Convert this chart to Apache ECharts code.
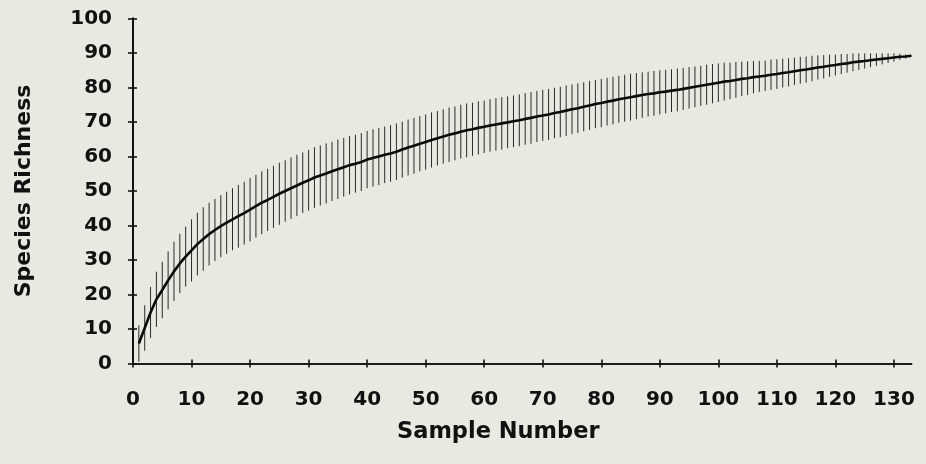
<!DOCTYPE html>
<html>
<head>
<meta charset="utf-8">
<script src="https://cdn.jsdelivr.net/npm/echarts@6/dist/echarts.min.js"></script>
<style>
html,body{margin:0;padding:0;background:#e9e9e1;}
#chart{width:926px;height:464px;}
</style>
</head>
<body>
<div id="chart"></div>
<script>
// Mean species richness for samples 1..133
const meanRichness = [
  5.8, 10.3, 14.8, 18.6, 21.3, 24.1, 26.7, 29.0, 31.0, 32.8,
  34.6, 36.1, 37.5, 38.7, 39.8, 40.8, 41.8, 42.7, 43.6, 44.6,
  45.6, 46.6, 47.4, 48.3, 49.2, 50.0, 50.8, 51.6, 52.4, 53.1,
  53.9, 54.5, 55.1, 55.7, 56.3, 56.9, 57.5, 57.9, 58.4, 59.1,
  59.6, 60.0, 60.5, 60.9, 61.4, 62.0, 62.6, 63.1, 63.7, 64.2,
  64.8, 65.3, 65.8, 66.3, 66.7, 67.2, 67.6, 67.9, 68.3, 68.6,
  69.0, 69.3, 69.6, 69.9, 70.2, 70.5, 70.9, 71.2, 71.6, 71.9,
  72.2, 72.6, 72.9, 73.3, 73.7, 74.0, 74.4, 74.8, 75.2, 75.5,
  75.9, 76.2, 76.6, 76.9, 77.2, 77.5, 77.8, 78.1, 78.3, 78.6,
  78.8, 79.1, 79.3, 79.6, 79.9, 80.2, 80.5, 80.8, 81.1, 81.4,
  81.7, 81.9, 82.2, 82.5, 82.7, 83.0, 83.2, 83.4, 83.7, 83.9,
  84.2, 84.4, 84.7, 85.0, 85.2, 85.5, 85.8, 86.0, 86.3, 86.5,
  86.8, 87.0, 87.3, 87.5, 87.7, 87.9, 88.1, 88.3, 88.5, 88.7,
  88.9, 89.0, 89.2
];
// Standard deviation (half length of each error bar)
const sdRichness = [
  5.3, 6.6, 7.4, 8.0, 8.2, 8.4, 8.6, 8.6, 8.7, 9.0,
  9.1, 9.2, 9.1, 9.0, 9.0, 9.0, 9.0, 9.1, 9.1, 9.2,
  9.1, 9.1, 9.0, 9.0, 9.0, 8.9, 8.9, 8.9, 8.8, 8.8,
  8.8, 8.7, 8.7, 8.6, 8.6, 8.5, 8.5, 8.4, 8.4, 8.3,
  8.3, 8.3, 8.2, 8.2, 8.2, 8.1, 8.1, 8.1, 8.0, 8.0,
  8.0, 7.9, 7.9, 7.9, 7.8, 7.8, 7.8, 7.7, 7.7, 7.6,
  7.6, 7.6, 7.6, 7.5, 7.5, 7.5, 7.5, 7.5, 7.4, 7.4,
  7.4, 7.3, 7.3, 7.3, 7.2, 7.2, 7.1, 7.1, 7.0, 7.0,
  6.9, 6.9, 6.8, 6.8, 6.8, 6.7, 6.6, 6.5, 6.5, 6.4,
  6.3, 6.2, 6.2, 6.1, 6.0, 5.9, 5.8, 5.8, 5.7, 5.6,
  5.5, 5.3, 5.2, 5.0, 4.9, 4.7, 4.5, 4.4, 4.4, 4.3,
  4.2, 4.1, 4.0, 3.9, 3.8, 3.7, 3.5, 3.4, 3.2, 3.0,
  2.9, 2.7, 2.6, 2.4, 2.2, 2.0, 1.8, 1.6, 1.4, 1.2,
  0.9, 0.6, 0.0
];
const xTickLabels = [0, 10, 20, 30, 40, 50, 60, 70, 80, 90, 100, 110, 120, 130];
const yTickLabels = [0, 10, 20, 30, 40, 50, 60, 70, 80, 90, 100];
const xTitle = 'Sample Number';
const yTitle = 'Species Richness';

const sampleNumbers = meanRichness.map((_, i) => i + 1);
const meanData = sampleNumbers.map((n, i) => [n, meanRichness[i]]);
const barData = sampleNumbers.map((n, i) => [n, meanRichness[i] - sdRichness[i], meanRichness[i] + sdRichness[i]]);

const FONT = 'DejaVu Sans';
const INK = '#111';

const chart = echarts.init(document.getElementById('chart'), null, {renderer: 'canvas'});

const xBase = {
  type: 'value', min: 0, max: 133, gridIndex: 0, position: 'bottom',
  splitLine: {show: false},
  axisLine: {show: true, onZero: false, lineStyle: {color: INK, width: 1.6}}
};
const yBase = {
  type: 'value', min: 0, max: 100, interval: 10, gridIndex: 0, position: 'left',
  splitLine: {show: false},
  axisLine: {show: true, onZero: false, lineStyle: {color: INK, width: 2}}
};

chart.setOption({
  backgroundColor: '#e9e9e1',
  animation: false,
  grid: {left: 133, right: 14.5, top: 18.5, bottom: 100.5},
  xAxis: [
    Object.assign({}, xBase, {
      axisTick: {show: true, inside: false, length: 4, customValues: xTickLabels, lineStyle: {color: INK, width: 1.6}},
      axisLabel: {show: true, margin: 26, customValues: xTickLabels, color: INK, fontFamily: FONT, fontWeight: 'bold', fontSize: 20}
    }),
    Object.assign({}, xBase, {
      axisTick: {show: true, inside: true, length: 4, customValues: xTickLabels, lineStyle: {color: INK, width: 1.6}},
      axisLabel: {show: false}
    })
  ],
  yAxis: [
    Object.assign({}, yBase, {
      axisTick: {show: true, inside: false, length: 5, lineStyle: {color: INK, width: 1.6}},
      axisLabel: {show: true, margin: 21, color: INK, fontFamily: FONT, fontWeight: 'bold', fontSize: 20,
        customValues: yTickLabels},
      name: yTitle, nameLocation: 'middle', nameGap: 98,
      nameTextStyle: {color: INK, fontFamily: FONT, fontWeight: 'bold', fontSize: 22}
    }),
    Object.assign({}, yBase, {
      axisTick: {show: true, inside: true, length: 4, lineStyle: {color: INK, width: 1.6}},
      axisLabel: {show: false}
    })
  ],
  graphic: [{
    type: 'text', left: 397, top: 421,
    style: {text: xTitle, fill: INK, font: 'bold 22.5px "DejaVu Sans"'}
  }],
  series: [
    {
      type: 'custom',
      xAxisIndex: 0, yAxisIndex: 0,
      data: barData,
      encode: {x: 0, y: [1, 2]},
      renderItem: function (params, api) {
        const x = api.value(0);
        const p1 = api.coord([x, api.value(1)]);
        const p2 = api.coord([x, api.value(2)]);
        return {
          type: 'line',
          shape: {x1: p1[0], y1: p1[1], x2: p2[0], y2: p2[1]},
          style: {stroke: '#2a2a2a', lineWidth: 1}
        };
      },
      z: 2
    },
    {
      type: 'line',
      xAxisIndex: 0, yAxisIndex: 0,
      data: meanData,
      showSymbol: false,
      lineStyle: {color: '#0a0a0a', width: 2.6},
      z: 3
    }
  ]
});
</script>
</body>
</html>
